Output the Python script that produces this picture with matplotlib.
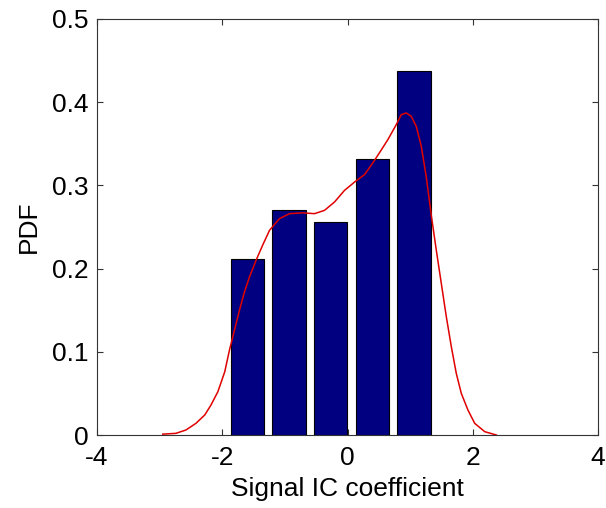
import matplotlib
matplotlib.use("Agg")
import matplotlib.pyplot as plt
import numpy as np

# ── Data ──────────────────────────────────────────────────────────────────────
bin_centers = [-1.60, -0.935, -0.27, 0.395, 1.06]
bin_heights = [0.211, 0.271, 0.256, 0.332, 0.437]
bin_width = 0.532

kde_x = [-2.95, -2.74, -2.58, -2.42, -2.28, -2.18, -2.07, -1.96, -1.885, -1.805,
         -1.725, -1.645, -1.565, -1.46, -1.35, -1.245, -1.086, -0.927, -0.714,
         -0.527, -0.367, -0.208, -0.048, 0.112, 0.272, 0.404, 0.525, 0.644,
         0.778, 0.858, 0.937, 1.017, 1.097, 1.177, 1.257, 1.337, 1.417, 1.497,
         1.577, 1.657, 1.736, 1.816, 1.922, 2.03, 2.19, 2.375]
kde_y = [0.001, 0.002, 0.006, 0.014, 0.024, 0.036, 0.052, 0.076, 0.102, 0.126,
         0.150, 0.172, 0.190, 0.210, 0.229, 0.246, 0.260, 0.266, 0.267,
         0.266, 0.270, 0.280, 0.294, 0.304, 0.313, 0.327, 0.341, 0.355,
         0.373, 0.385, 0.387, 0.383, 0.371, 0.347, 0.310, 0.264, 0.222, 0.182,
         0.142, 0.106, 0.074, 0.050, 0.030, 0.014, 0.004, 0.0]

xticks = [-4, -2, 0, 2, 4]
yticks = [0, 0.1, 0.2, 0.3, 0.4, 0.5]
ytick_labels = ["0", "0.1", "0.2", "0.3", "0.4", "0.5"]

plt.rcParams["font.family"] = ["Liberation Sans", "DejaVu Sans"]
plt.rcParams["axes.unicode_minus"] = False

fig = plt.figure(figsize=(6.06, 5.08), dpi=100)
ax = fig.add_axes([0.160, 0.1437, 0.827, 0.819])

ax.bar(bin_centers, bin_heights, width=bin_width, color="#000080",
       edgecolor="black", linewidth=0.8, zorder=2)
ax.plot(kde_x, kde_y, color="#e00000", linewidth=1.1, zorder=3,
        solid_joinstyle="round")

ax.set_xlim(-4, 4)
ax.set_ylim(0, 0.5)
ax.set_xticks(xticks)
ax.set_yticks(yticks)
ax.set_yticklabels(ytick_labels)
ax.tick_params(direction="in", top=True, right=True, length=4, width=0.8,
               labelsize=19, colors="#333333", labelcolor="black")
ax.tick_params(axis="x", pad=8)
ax.tick_params(axis="y", pad=6)
for spine in ax.spines.values():
    spine.set_edgecolor("#333333")
    spine.set_linewidth(0.8)

ax.set_xlabel("Signal IC coefficient", fontsize=19, labelpad=5)
ax.set_ylabel("PDF", fontsize=19, labelpad=8)

fig.savefig("out.png", dpi=100, facecolor="white")
